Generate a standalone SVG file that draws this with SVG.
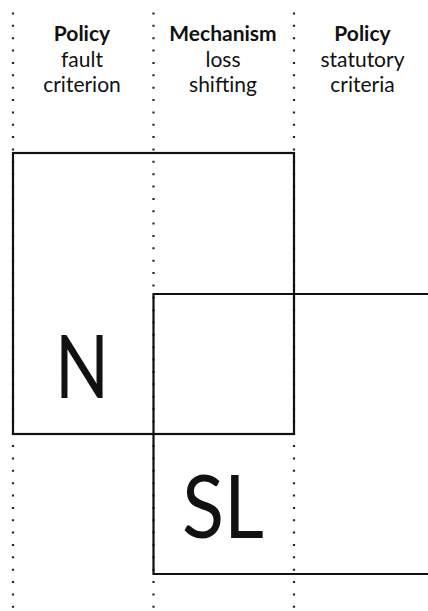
<svg xmlns="http://www.w3.org/2000/svg" width="428" height="611" viewBox="0 0 428 611">
<style>
.dot{stroke:#222;stroke-width:2.2;stroke-dasharray:2 10.36;fill:none}
.box{fill:none;stroke:#111;stroke-width:2.2}
.hd{font-family:Lato,"Open Sans",sans-serif;font-size:21px;fill:#111;text-anchor:middle}
.b{font-weight:bold}
.big{font-family:Lato,"Open Sans",sans-serif;font-size:88px;fill:#111;text-anchor:middle}
</style>
<rect width="428" height="611" fill="#fff"/>
<g id="connectors">
<line class="dot" x1="13" y1="12.5" x2="13" y2="611"/>
<line class="dot" x1="153.5" y1="12.5" x2="153.5" y2="611"/>
<line class="dot" x1="294" y1="12.5" x2="294" y2="611"/>
</g>
<g id="header-fault">
<text class="hd b" x="82" y="40.5">Policy</text>
<text class="hd" x="82" y="67">fault</text>
<text class="hd" x="82" y="92">criterion</text>
</g>
<g id="header-mechanism">
<text class="hd b" x="223" y="40.5">Mechanism</text>
<text class="hd" x="223" y="67">loss</text>
<text class="hd" x="223" y="92">shifting</text>
</g>
<g id="header-statutory">
<text class="hd b" x="362.5" y="40.5">Policy</text>
<text class="hd" x="362.5" y="67">statutory</text>
<text class="hd" x="362.5" y="92">criteria</text>
</g>
<g id="node-N">
<rect class="box" x="13" y="153" width="281" height="281"/>
<text class="big" x="82" y="398" textLength="54" lengthAdjust="spacingAndGlyphs">N</text>
</g>
<g id="node-SL">
<path class="box" d="M432,294 H153.5 V574 H432"/>
<text class="big" x="223" y="538" textLength="82" lengthAdjust="spacingAndGlyphs">SL</text>
</g>
</svg>
